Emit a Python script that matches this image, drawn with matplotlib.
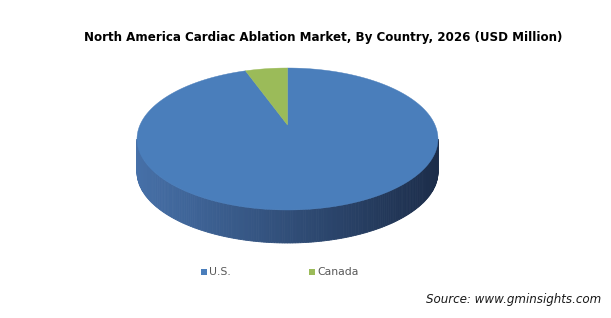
import numpy as np
import matplotlib.pyplot as plt
from matplotlib.patches import Polygon, Rectangle

# data (share of 2026 market, %)
countries = ["U.S.", "Canada"]
shares = [95.5, 4.5]
top_colors = ["#4a7ebb", "#9bbb59"]
title = "North America Cardiac Ablation Market, By Country, 2026 (USD Million)"
source = "Source: www.gminsights.com"

W, H = 611, 318
fig = plt.figure(figsize=(W / 100, H / 100), dpi=100)
ax = fig.add_axes([0, 0, 1, 1])
ax.set_xlim(0, W)
ax.set_ylim(H, 0)
ax.axis("off")

cx, cy = 287.5, 139
rx, ry = 150.5, 71
depth = 33
apex = (cx, 125)  # perspective: pie centre sits above the ellipse centre


def ell(t):
    r = np.radians(t)
    return cx + rx * np.cos(r), cy - ry * np.sin(r)


# side of the cylinder, front half only, shaded left to right
ts = np.linspace(180, 360, 181)
c_left = np.array([70, 112, 168]) / 255
c_right = np.array([28, 45, 74]) / 255
for a, b in zip(ts[:-1], ts[1:]):
    x0, y0 = ell(a)
    x1, y1 = ell(b)
    f = (0.5 * (x0 + x1) - (cx - rx)) / (2 * rx)
    col = c_left * (1 - f) + c_right * f
    ax.add_patch(Polygon([(x0, y0), (x1, y1), (x1, y1 + depth), (x0, y0 + depth)],
                         closed=True, facecolor=col, edgecolor=col, lw=0.6))

# top face, slices clockwise from 12 o'clock
start = 90.0
total = sum(shares)
for share, col in zip(shares, top_colors):
    sweep = 360.0 * share / total
    t = np.linspace(start, start - sweep, 200)
    xs, ys = ell(t)
    pts = [apex] + list(zip(xs, ys))
    ax.add_patch(Polygon(pts, closed=True, facecolor=col, edgecolor=col, lw=0.3))
    start -= sweep

ax.text(323, 38, title, ha="center", va="center", fontsize=8.6,
        fontweight="bold", color="#000000")

# legend
leg_x = [201, 309]
for x, name, col in zip(leg_x, countries, top_colors):
    ax.add_patch(Rectangle((x, 269), 6, 6, facecolor=col, edgecolor="none"))
    ax.text(x + 8, 272, name, ha="left", va="center", fontsize=7.8, color="#595959")

ax.text(601, 299, source, ha="right", va="center", fontsize=8.6,
        style="italic", color="#1a1a1a")

fig.savefig("out.png", dpi=100)
